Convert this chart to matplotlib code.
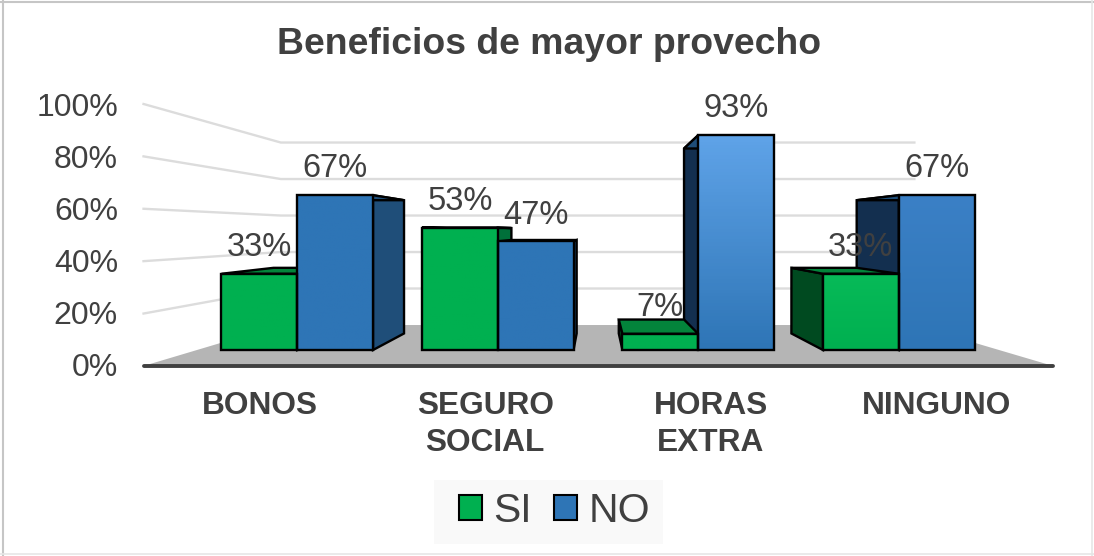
import numpy as np
import matplotlib
matplotlib.use("Agg")
import matplotlib.pyplot as plt
from matplotlib.colors import LinearSegmentedColormap
from matplotlib.lines import Line2D
from matplotlib.patches import Patch, Polygon, Rectangle

categories = ["BONOS", "SEGURO\nSOCIAL", "HORAS\nEXTRA", "NINGUNO"]
si_values = [33, 53, 7, 33]
no_values = [67, 47, 93, 67]
value_ticks = [0, 20, 40, 60, 80, 100]
title = "Beneficios de mayor provecho"

W, H = 1094, 556
plt.rcParams["font.family"] = ["Liberation Sans", "DejaVu Sans"]
TEXT = "#404040"
fig = plt.figure(figsize=(W / 100, H / 100), dpi=100, facecolor="white")

# Main axes: x in category units, y in percent, on the bars' front plane.
ax = fig.add_axes([0, 0, 1, 1])
PX_CAT, X0_PX, PX_PCT, Y0_PX = 200.5, 197.0, 2.31, 350.0
ax.set_xlim((0 - X0_PX) / PX_CAT, (W - X0_PX) / PX_CAT)
ax.set_ylim((Y0_PX - H) / PX_PCT, Y0_PX / PX_PCT)
ax.axis("off")

VX, VY = 1.99, 51.5               # vanishing point
K_FRONT, K_BAR, K_BACK = 1.134, 0.861, 0.79  # depth factors


def proj(x, y, k=1.0):
    return VX + (x - VX) * k, VY + (y - VY) * k


# Floor
n = len(categories)
ax.add_patch(Polygon([proj(0, 0, K_FRONT), proj(n, 0, K_FRONT),
                      proj(n, 0, K_BACK), proj(0, 0, K_BACK)],
                     fc="#B5B5B5", ec="none", zorder=1))
# Gridlines
for v in value_ticks[1:]:
    pts = [proj(0, v, K_FRONT), proj(0, v, K_BACK), proj(n, v, K_BACK)]
    ax.plot(*zip(*pts), color="#DCDCDC", lw=1.7, zorder=1.5, solid_joinstyle="miter")
# Base line
ax.plot(*zip(proj(0, 0, K_FRONT), proj(n, 0, K_FRONT)), color="#404040", lw=2.8,
        zorder=2, solid_capstyle="round")

WIDTH = 0.378
EDGE = dict(ec="black", lw=1.7, joinstyle="miter")
GREEN, BLUE = "#00B050", "#2E75B6"
GREEN_TOP, GREEN_SIDE_R, GREEN_SIDE_L = "#03843B", "#00703A", "#004A20"
BLUE_TOP, BLUE_SIDE_R, BLUE_SIDE_L = "#1F4E79", "#1F4E79", "#132F4F"
NO_TOPS = {2: "#5FA3E8", 3: "#3B80C6"}
SI_TOPS = {3: "#07BA58"}

bars = []
for i, (s, o) in enumerate(zip(si_values, no_values)):
    bars.append((i, i + 0.5 - WIDTH, s, "si"))
    bars.append((i, i + 0.5, o, "no"))

# Back faces first, tallest bars first; fronts afterwards.
z = 3.0
for i, x0, v, kind in sorted(bars, key=lambda b: -b[2]):
    x1 = x0 + WIDTH
    top_c = GREEN_TOP if kind == "si" else BLUE_TOP
    right_c = GREEN_SIDE_R if kind == "si" else BLUE_SIDE_R
    left_c = GREEN_SIDE_L if kind == "si" else BLUE_SIDE_L
    if x1 < VX:
        ax.add_patch(Polygon([proj(x1, 0), proj(x1, v), proj(x1, v, K_BAR), proj(x1, 0, K_BAR)],
                             fc=right_c, zorder=z, **EDGE))
    elif x0 > VX:
        ax.add_patch(Polygon([proj(x0, 0), proj(x0, v), proj(x0, v, K_BAR), proj(x0, 0, K_BAR)],
                             fc=left_c, zorder=z, **EDGE))
    z += 0.01
    ax.add_patch(Polygon([proj(x0, v), proj(x1, v), proj(x1, v, K_BAR), proj(x0, v, K_BAR)],
                         fc=top_c, zorder=z, **EDGE))
    z += 0.01

for i, x0, v, kind in bars:
    x1 = x0 + WIDTH
    base = GREEN if kind == "si" else BLUE
    top = (SI_TOPS if kind == "si" else NO_TOPS).get(i, base)
    cmap = LinearSegmentedColormap.from_list("g", [top, base])
    im = ax.imshow(np.linspace(0, 1, 64).reshape(-1, 1), cmap=cmap, aspect="auto",
                   extent=(x0, x1, 0, v), origin="upper", zorder=5)
    rect = Rectangle((x0, 0), WIDTH, v, fc="none", zorder=5.1, **EDGE)
    ax.add_patch(rect)
    im.set_clip_path(rect)
    ax.annotate(f"{v}%", xy=(x0 + WIDTH / 2, v), xytext=(0, 19), textcoords="offset points",
                ha="center", va="center", fontsize=23.5, color=TEXT, zorder=8)

ax.set_xlim((0 - X0_PX) / PX_CAT, (W - X0_PX) / PX_CAT)
ax.set_ylim((Y0_PX - H) / PX_PCT, Y0_PX / PX_PCT)

# Outer frame
for xs, ys, c, lw in [((3, 3), (0, 556), "#C6C6C6", 1.5), ((0, 1094), (1.5, 1.5), "#C6C6C6", 1.5),
                      ((1092, 1092), (0, 556), "#E6E6E6", 1.2), ((0, 1094), (554, 554), "#E6E6E6", 1.2)]:
    fig.add_artist(Line2D([x / W for x in xs], [1 - y / H for y in ys], color=c, lw=lw,
                          transform=fig.transFigure))

# Tick axes on the floor's front edge
ax2 = fig.add_axes([146.6 / W, (H - 365) / H, 902.8 / W, 260 / H], facecolor="none")
ax2.set_xlim(0, n)
ax2.set_ylim(0, 100)
for sp in ax2.spines.values():
    sp.set_visible(False)
ax2.set_yticks(value_ticks, [f"{v}%" for v in value_ticks])
ax2.set_xticks(np.arange(n) + 0.5, categories)
ax2.tick_params(axis="y", length=0, pad=20.6, labelsize=23, labelcolor=TEXT)
ax2.tick_params(axis="x", length=0, pad=18.5, labelsize=22.8, labelcolor=TEXT)
for t in ax2.get_xticklabels():
    t.set_fontweight("bold")
    t.set_linespacing(1.3)

fig.text(549 / W, 1 - 44 / H, title, ha="center", va="center", fontsize=26.9, fontweight="bold", color=TEXT)

# Legend with its pale backing box
fig.add_artist(Rectangle((434 / W, 1 - 544 / H), 229 / W, 64 / H, fc="#F9F9F9", ec="none",
                         transform=fig.transFigure, zorder=1))
handles = [Patch(fc=GREEN, ec="black", lw=1.5, label="SI"), Patch(fc=BLUE, ec="black", lw=1.5, label="NO")]
leg = fig.legend(handles=handles, loc="center", bbox_to_anchor=(554.5 / W, 1 - 511 / H), ncol=2,
                 fontsize=29.5, frameon=False, handlelength=0.56, handleheight=0.56,
                 handletextpad=0.27, columnspacing=0.55, labelcolor=TEXT)
leg.set_zorder(3)

fig.savefig("out.png", dpi=100)
